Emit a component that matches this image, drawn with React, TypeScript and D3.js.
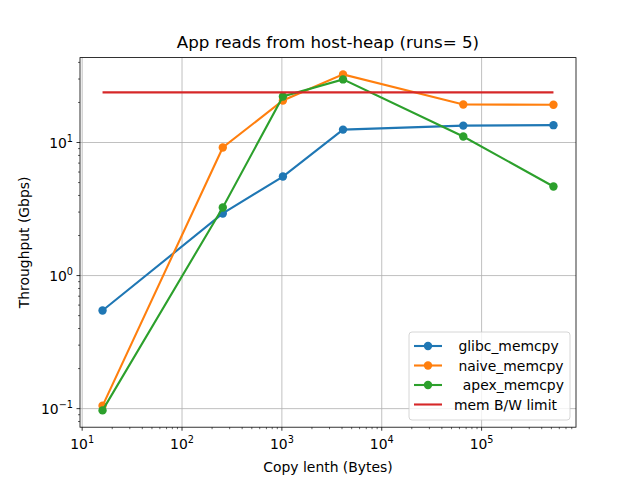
import React, { useRef, useEffect } from 'react';
import * as d3 from 'd3';

const copyLengths = [16, 256, 1024, 4096, 65536, 524288];
const glibcValues = [0.546, 2.93, 5.55, 12.5, 13.4, 13.5];
const naiveValues = [0.105, 9.17, 20.7, 32.5, 19.3, 19.2];
const apexValues = [0.097, 3.25, 22.2, 29.8, 11.1, 4.67];
const memLimit = 23.8;

const seriesNames = [' glibc_memcpy', ' naive_memcpy', '  apex_memcpy', 'mem B/W limit'];
const seriesColors = ['#1f77b4', '#ff7f0e', '#2ca02c', '#d62728'];

const xDecades = [1, 2, 3, 4, 5];
const yDecades = [-1, 0, 1];

const App = () => {
  const svgRef = useRef<SVGSVGElement>(null);
  const W = 640, H = 480;
  const margin = { top: 57.6, right: 64, bottom: 52.8, left: 80 };
  const width = W - margin.left - margin.right;
  const height = H - margin.top - margin.bottom;

  useEffect(() => {
    const svg = d3.select(svgRef.current);
    svg.selectAll('*').remove();
    const font = 'DejaVu Sans, sans-serif';

    svg.append('rect').attr('width', W).attr('height', H).attr('fill', 'white');

    // matplotlib-like 5% margins in log space
    const lx = copyLengths.map(Math.log10);
    const xmin = d3.min(lx)!, xmax = d3.max(lx)!;
    const xpad = (xmax - xmin) * 0.05;
    const allY = [...glibcValues, ...naiveValues, ...apexValues, memLimit].map(Math.log10);
    const ymin = d3.min(allY)!, ymax = d3.max(allY)!;
    const ypad = (ymax - ymin) * 0.05;

    const x = d3.scaleLog().domain([10 ** (xmin - xpad), 10 ** (xmax + xpad)]).range([0, width]);
    const y = d3.scaleLog().domain([10 ** (ymin - ypad), 10 ** (ymax + ypad)]).range([height, 0]);

    const g = svg.append('g').attr('transform', `translate(${margin.left},${margin.top})`);

    // grid
    xDecades.forEach(e => {
      g.append('line').attr('x1', x(10 ** e)).attr('x2', x(10 ** e)).attr('y1', 0).attr('y2', height)
        .attr('stroke', '#b0b0b0').attr('stroke-width', 0.8);
    });
    yDecades.forEach(e => {
      g.append('line').attr('y1', y(10 ** e)).attr('y2', y(10 ** e)).attr('x1', 0).attr('x2', width)
        .attr('stroke', '#b0b0b0').attr('stroke-width', 0.8);
    });

    // ticks
    const [xd0, xd1] = x.domain();
    for (let e = 0; e <= 6; e++) {
      for (let m = 1; m < 10; m++) {
        const v = m * 10 ** e;
        if (v < xd0 || v > xd1) continue;
        const px = x(v);
        g.append('line').attr('x1', px).attr('x2', px).attr('y1', height).attr('y2', height + (m === 1 ? 3.5 : 2))
          .attr('stroke', 'black').attr('stroke-width', m === 1 ? 0.8 : 0.6);
      }
    }
    const [yd0, yd1] = y.domain();
    for (let e = -2; e <= 2; e++) {
      for (let m = 1; m < 10; m++) {
        const v = m * 10 ** e;
        if (v < yd0 || v > yd1) continue;
        const py = y(v);
        g.append('line').attr('y1', py).attr('y2', py).attr('x1', 0).attr('x2', m === 1 ? -3.5 : -2)
          .attr('stroke', 'black').attr('stroke-width', m === 1 ? 0.8 : 0.6);
      }
    }

    xDecades.forEach(e => {
      const t = g.append('text').attr('x', x(10 ** e)).attr('y', height + 22)
        .attr('text-anchor', 'middle').attr('font-family', font).attr('font-size', 13.9);
      t.append('tspan').text('10');
      t.append('tspan').attr('dy', -6).attr('font-size', 9.7).text(String(e));
    });
    yDecades.forEach(e => {
      const t = g.append('text').attr('x', -7).attr('y', y(10 ** e) + 5)
        .attr('text-anchor', 'end').attr('font-family', font).attr('font-size', 13.9);
      t.append('tspan').text('10');
      t.append('tspan').attr('dy', -6).attr('font-size', 9.7).text(e < 0 ? '\u2212' + Math.abs(e) : String(e));
    });

    // series
    const line = d3.line<[number, number]>().x(d => x(d[0])).y(d => y(d[1]));
    [glibcValues, naiveValues, apexValues].forEach((vals, i) => {
      const pts = copyLengths.map((c, j) => [c, vals[j]] as [number, number]);
      g.append('path').attr('d', line(pts)).attr('fill', 'none')
        .attr('stroke', seriesColors[i]).attr('stroke-width', 2.1);
      g.selectAll(null).data(pts).join('circle')
        .attr('cx', d => x(d[0])).attr('cy', d => y(d[1])).attr('r', 4.2).attr('fill', seriesColors[i]);
    });
    g.append('path')
      .attr('d', line([[copyLengths[0], memLimit], [copyLengths[copyLengths.length - 1], memLimit]]))
      .attr('stroke', seriesColors[3]).attr('stroke-width', 2.1).attr('fill', 'none');

    // frame
    g.append('rect').attr('width', width).attr('height', height).attr('fill', 'none')
      .attr('stroke', 'black').attr('stroke-width', 0.8);

    // labels
    svg.append('text').attr('x', margin.left + width / 2).attr('y', 48).attr('text-anchor', 'middle')
      .attr('font-family', font).attr('font-size', 16.7).text('App reads from host-heap (runs= 5)');
    svg.append('text').attr('x', margin.left + width / 2).attr('y', 472).attr('text-anchor', 'middle')
      .attr('font-family', font).attr('font-size', 13.9).text('Copy lenth (Bytes)');
    svg.append('text').attr('transform', `translate(29,${margin.top + height / 2}) rotate(-90)`)
      .attr('text-anchor', 'middle').attr('font-family', font).attr('font-size', 13.9).text('Throughput (Gbps)');

    // legend
    const lg = svg.append('g').attr('transform', 'translate(409,332)');
    lg.append('rect').attr('width', 161).attr('height', 88).attr('rx', 3).attr('fill', 'white')
      .attr('fill-opacity', 0.8).attr('stroke', '#cccccc').attr('stroke-width', 0.8);
    seriesNames.forEach((name, i) => {
      const cy = 14 + i * 19.5;
      lg.append('line').attr('x1', 5).attr('x2', 33).attr('y1', cy).attr('y2', cy)
        .attr('stroke', seriesColors[i]).attr('stroke-width', 2.1);
      if (i < 3) lg.append('circle').attr('cx', 19).attr('cy', cy).attr('r', 4.2).attr('fill', seriesColors[i]);
      lg.append('text').attr('x', 45).attr('y', cy + 5).attr('font-family', font).attr('font-size', 13.9)
        .attr('xml:space', 'preserve').style('white-space', 'pre').text(name);
    });
  }, []);

  return <svg ref={svgRef} width={W} height={H} style={{ position: 'absolute', left: 0, top: 0 }}></svg>;
};

export default App;
